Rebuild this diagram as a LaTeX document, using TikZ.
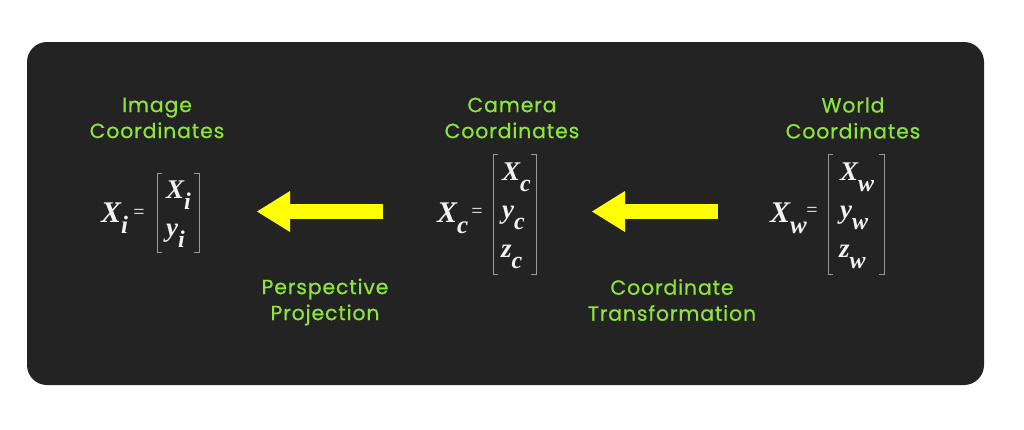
\documentclass[tikz,border=0pt]{standalone}
\usepackage{fontspec}
\setmainfont{Poppins}[LetterSpace=4,FakeBold=0.6]
\newfontfamily\mf{Liberation Serif}
\usetikzlibrary{arrows.meta}
\definecolor{bgc}{HTML}{232323}
\definecolor{lime}{HTML}{8DE43C}
\definecolor{ylw}{HTML}{FFFF00}
\definecolor{brkc}{HTML}{9A9A9A}
\definecolor{mathc}{HTML}{F2F2F2}
\newcommand\mvout[2]{{\mf\bfseries\itshape\fontsize{30}{30}\selectfont #1\raisebox{-11pt}{\fontsize{25}{25}\selectfont #2}}}
\newcommand\mvin[2]{{\mf\bfseries\itshape\fontsize{27}{27}\selectfont #1\raisebox{-11pt}{\fontsize{24}{24}\selectfont #2}}}
\begin{document}
\begin{tikzpicture}[x=1pt,y=-1pt,
  lbl/.style={text=lime,align=center,font=\fontsize{20.5}{26}\selectfont,inner sep=0pt},
  mathout/.style={text=mathc,anchor=base west,inner sep=0pt},
  mathin/.style={text=mathc,anchor=base west,inner sep=0pt},
  eqs/.style={text=mathc,inner sep=0pt,font=\mf\fontsize{20}{20}\selectfont},
  brk/.style={draw=brkc,line width=0.9pt},
  yarrow/.style={draw=ylw,line width=15pt,-{Triangle[length=33pt,width=41pt,line width=0pt]}}]
\useasboundingbox (0,0) rectangle (1024,429);
\fill[white] (0,0) rectangle (1024,429);
\fill[bgc,rounded corners=20pt] (27,42) rectangle (984,385);
% titles
\node[lbl] (timg) at (157,118) {Image\\Coordinates};
\node[lbl] (tcam) at (512,118) {Camera\\Coordinates};
\node[lbl] (twld) at (853,118) {World\\Coordinates};
\node[lbl] (tpp) at (325,302) {Perspective\\Projection};
\node[lbl] (tct) at (672,300) {Coordinate\\Transformation};
% image formula
\node[mathout] (xi) at (101,222) {\mvout{X}{i}};
\node[eqs] (eq1) at (139,214) {=};
\node[mathin] (xi1) at (166,198) {\mvin{X}{i}};
\node[mathin] (yi1) at (166,236) {\mvin{y}{i}};
\draw[brk] (162,173) -- (157,173) -- (157,252) -- (162,252);
\draw[brk] (194,173) -- (199,173) -- (199,252) -- (194,252);
% camera formula
\node[mathout] (xc) at (437,222) {\mvout{X}{c}};
\node[eqs] (eq2) at (477,213) {=};
\node[mathin] (xc1) at (502,180) {\mvin{X}{c}};
\node[mathin] (yc1) at (502,218) {\mvin{y}{c}};
\node[mathin] (zc1) at (501,257) {\mvin{z}{c}};
\draw[brk] (498,154) -- (493,154) -- (493,274) -- (498,274);
\draw[brk] (531,154) -- (536,154) -- (536,274) -- (531,274);
% world formula
\node[mathout] (xw) at (770,222) {\mvout{X}{w}};
\node[eqs] (eq3) at (812,212) {=};
\node[mathin] (xw1) at (840,180) {\mvin{X}{w}};
\node[mathin] (yw1) at (840,218) {\mvin{y}{w}};
\node[mathin] (zw1) at (839,257) {\mvin{z}{w}};
\draw[brk] (833,154) -- (828,154) -- (828,274) -- (833,274);
\draw[brk] (879,154) -- (884,154) -- (884,274) -- (879,274);
% arrows
\coordinate (a1s) at (383,211.5);
\coordinate (a1e) at (257,211.5);
\coordinate (a2s) at (718,211.5);
\coordinate (a2e) at (592,211.5);
\draw[yarrow] (a1s) -- (a1e);
\draw[yarrow] (a2s) -- (a2e);
\end{tikzpicture}
\end{document}
